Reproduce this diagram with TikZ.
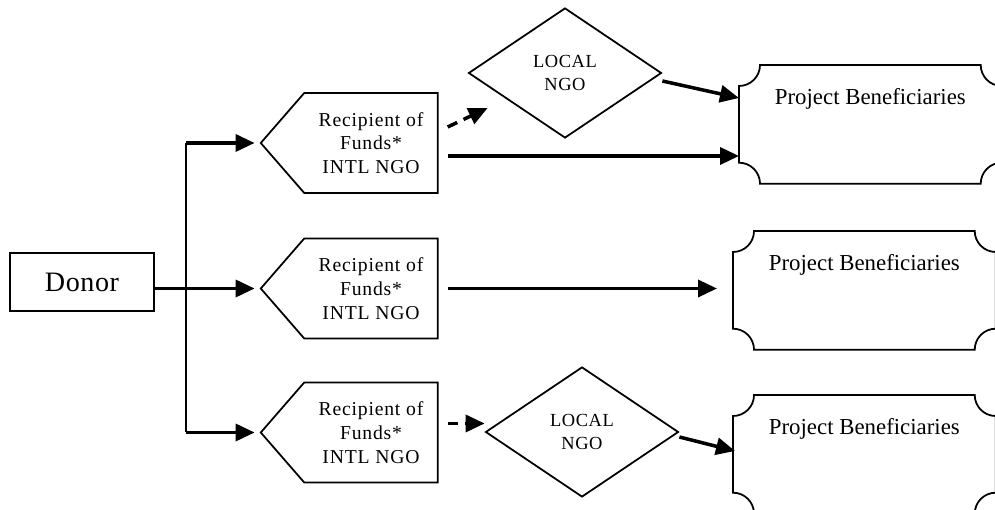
\documentclass[tikz,border=0pt]{standalone}
\usepackage{fontspec}
\setmainfont{Liberation Serif}
\newfontfamily\donorfont[LetterSpace=2]{Liberation Serif}
\newfontfamily\recipfont[LetterSpace=4]{Liberation Serif}
\newfontfamily\localfont[LetterSpace=3]{Liberation Serif}
\usetikzlibrary{arrows.meta, calc, shapes.geometric, shapes.symbols}

\tikzset{
  donorbox/.style={draw, line width=1pt, minimum width=2.88cm, minimum height=1.16cm,
    font=\donorfont\fontsize{16}{18}\selectfont},
  recipbox/.style={draw, line width=1pt, signal, signal to=west, signal pointer angle=98,
    minimum width=3.54cm, minimum height=2cm, align=center,
    font=\recipfont\fontsize{11.2}{13.5}\selectfont},
  localbox/.style={draw, line width=1pt, diamond, minimum width=3.86cm, minimum height=2.6cm,
    inner sep=0pt, align=center, font=\localfont\fontsize{10.5}{13}\selectfont},
  benebox/.style={anchor=north west, inner sep=0pt, minimum width=5.24cm,
    text height=0.78cm, text depth=1.58cm, font=\fontsize{13}{15}\selectfont},
  flow/.style={line width=2pt, -{Triangle[length=0.38cm, width=0.34cm]}},
  dashflow/.style={flow, dash pattern=on 6pt off 4pt},
}

%% outline with scooped corners round a beneficiaries node
\newcommand\scoop[1]{%
  \draw[line width=1pt] ($(#1.north west)+(0,-0.42)$)
    arc[start angle=-90, end angle=0, radius=0.42]
    -- ($(#1.north east)+(-0.42,0)$)
    arc[start angle=180, end angle=270, radius=0.42]
    -- ($(#1.south east)+(0,0.42)$)
    arc[start angle=90, end angle=180, radius=0.42]
    -- ($(#1.south west)+(0.42,0)$)
    arc[start angle=0, end angle=90, radius=0.42] -- cycle;}

\begin{document}
\begin{tikzpicture}
  \useasboundingbox (0,0) rectangle (19.9,10.2);

  %% ---- Donor and the recipients ----
  \node[donorbox] (donor) at (1.64,4.56) {Donor};
  \node[recipbox] (recip1) at (7.42,7.34) {Recipient of\\Funds*\\INTL NGO};
  \node[recipbox] (recip2) at (7.42,4.43) {Recipient of\\Funds*\\INTL NGO};
  \node[recipbox] (recip3) at (7.42,1.55) {Recipient of\\Funds*\\INTL NGO};

  %% Local partners
  \node[localbox] (local1) at (11.3,8.74) {LOCAL\\NGO};
  \node[localbox] (local3) at (11.64,1.56) {LOCAL\\NGO};

  %% Beneficiaries (right side runs off the page)
  \node[benebox] (bene1) at (14.78,8.9) {Project Beneficiaries};
  \node[benebox] (bene2) at (14.66,5.58) {Project Beneficiaries};
  \node[benebox] (bene3) at (14.66,2.3) {Project Beneficiaries};
  \scoop{bene1}
  \scoop{bene2}
  \scoop{bene3}

  %% ---- Funding lines ----
  \coordinate (bus) at (3.72,4.56);
  \draw[line width=1.2pt] (bus |- recip1.west) -- (bus |- recip3.west);
  \draw[flow, shorten >=0.1cm] (bus |- recip1.west) -- (recip1.west);
  \draw[flow, shorten >=0.1cm] (donor.east |- recip2.west) -- (recip2.west);
  \draw[flow, shorten >=0.1cm] (bus |- recip3.west) -- (recip3.west);

  %% Top row
  \draw[dashflow] ($(recip1.east)+(0.18,0.32)$) -- ($(local1.west)+(0.4,-0.7)$);
  \draw[flow] ($(local1.east)+(0,-0.16)$) -- ($(bene1.north west)+(0,-0.66)$);
  \draw[flow] ($(recip1.east)+(0.18,-0.26)$) coordinate (r1out) -- (r1out -| bene1.west);

  %% Middle row
  \draw[flow, shorten >=0.32cm] ($(recip2.east)+(0.18,0)$) -- (recip2.east -| bene2.west);

  %% Bottom row
  \draw[dashflow] ($(recip3.east)+(0.18,0.18)$) coordinate (r3out) -- (r3out -| local3.west);
  \draw[flow] ($(local3.east)+(0,-0.1)$) -- ($(bene3.north west)+(0.04,-1.12)$);

\end{tikzpicture}
\end{document}
